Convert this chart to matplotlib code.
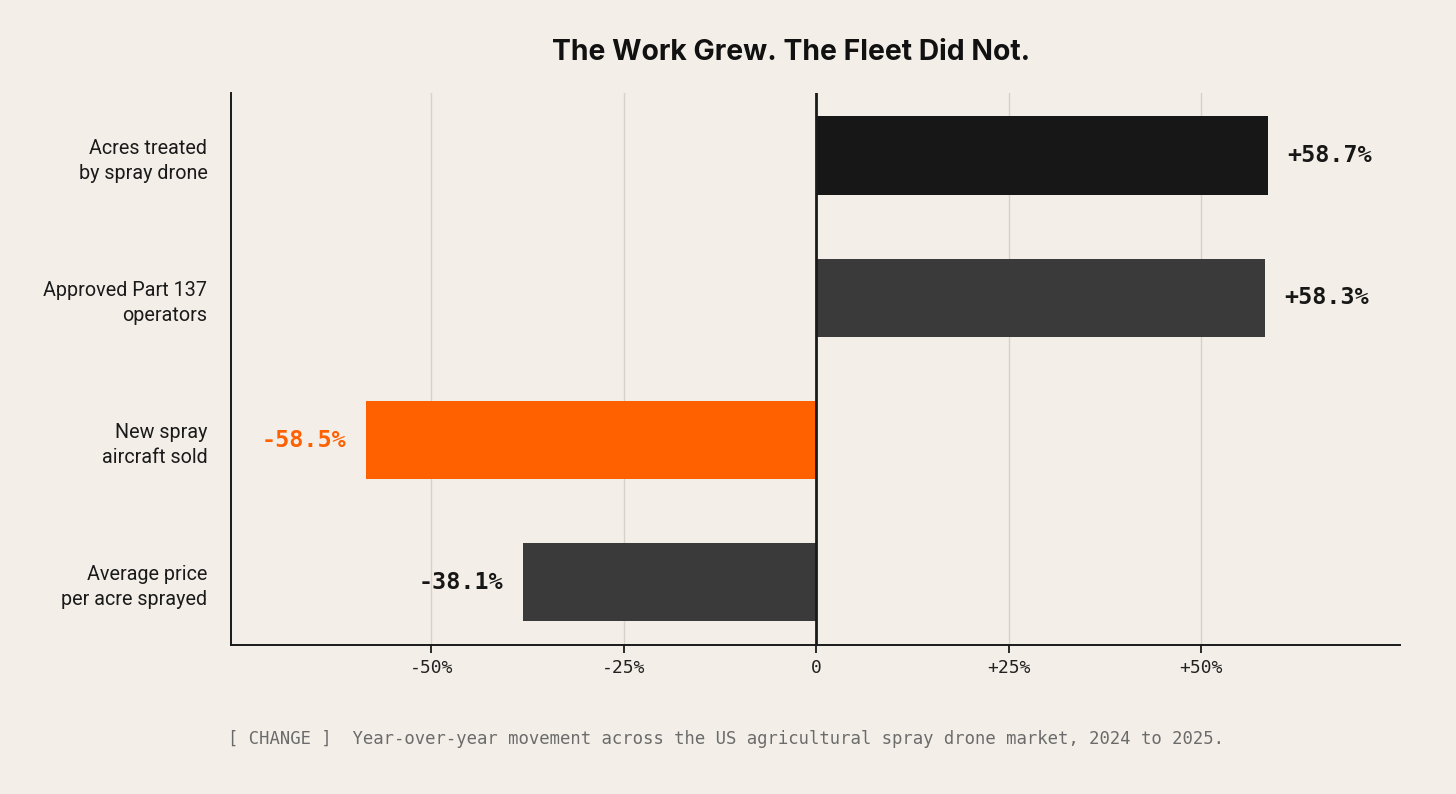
import matplotlib.pyplot as plt

categories = ['Acres treated\nby spray drone', 'Approved Part 137\noperators',
              'New spray\naircraft sold', 'Average price\nper acre sprayed']
changes = [58.7, 58.3, -58.5, -38.1]
bar_colors = ['#171717', '#3a3a3a', '#ff6000', '#3a3a3a']
label_colors = ['#171717', '#171717', '#ff6000', '#171717']
tick_vals = [-50, -25, 0, 25, 50]
tick_labels = ['-50%', '-25%', '0', '+25%', '+50%']

bg = '#f3efe8'
mono = 'DejaVu Sans Mono'

fig = plt.figure(figsize=(14.56, 7.94), dpi=100, facecolor=bg)
ax = fig.add_axes([0.1587, 0.1877, 0.8028, 0.6952], facecolor=bg)

ypos = list(range(len(categories)))
ax.barh(ypos, changes, height=0.55, color=bar_colors, zorder=3)
ax.set_ylim(3.44, -0.44)
ax.set_xlim(-76, 75.8)

for y, v, c in zip(ypos, changes, label_colors):
    txt = f'{v:+.1f}%'
    if v >= 0:
        ax.annotate(txt, (v, y), xytext=(14, 0), textcoords='offset points',
                    ha='left', va='center', fontsize=16.8, fontweight='bold',
                    family=mono, color=c)
    else:
        ax.annotate(txt, (v, y), xytext=(-14, 0), textcoords='offset points',
                    ha='right', va='center', fontsize=16.8, fontweight='bold',
                    family=mono, color=c)

ax.set_yticks(ypos)
ax.set_yticklabels(categories, fontsize=14.2, family='Roboto', color='#1a1a1a',
                   linespacing=1.4)
ax.tick_params(axis='y', length=0, pad=17)

ax.set_xticks(tick_vals)
ax.set_xticklabels(tick_labels, fontsize=13, family=mono, color='#222222')
ax.tick_params(axis='x', length=6, width=1.3, color='#1a1a1a', pad=4)

for t in tick_vals:
    if t != 0:
        ax.axvline(t, color='#d6d2cb', lw=1, zorder=1)
ax.axvline(0, color='#1a1a1a', lw=2, zorder=4)

for s in ['top', 'right']:
    ax.spines[s].set_visible(False)
for s in ['left', 'bottom']:
    ax.spines[s].set_color('#1a1a1a')
    ax.spines[s].set_linewidth(1.4)

fig.text(0.543, 0.934, 'The Work Grew. The Fleet Did Not.', ha='center', va='center',
         fontsize=20.4, fontweight='bold', family='Inter', color='#111111')

fig.text(228 / 1456, 1 - 739 / 794,
         '[ CHANGE ]  Year-over-year movement across the US agricultural spray drone market, 2024 to 2025.',
         ha='left', va='center', fontsize=12.4, family=mono, color='#6b6b6b')

fig.savefig('out.png', dpi=100, facecolor=bg)
